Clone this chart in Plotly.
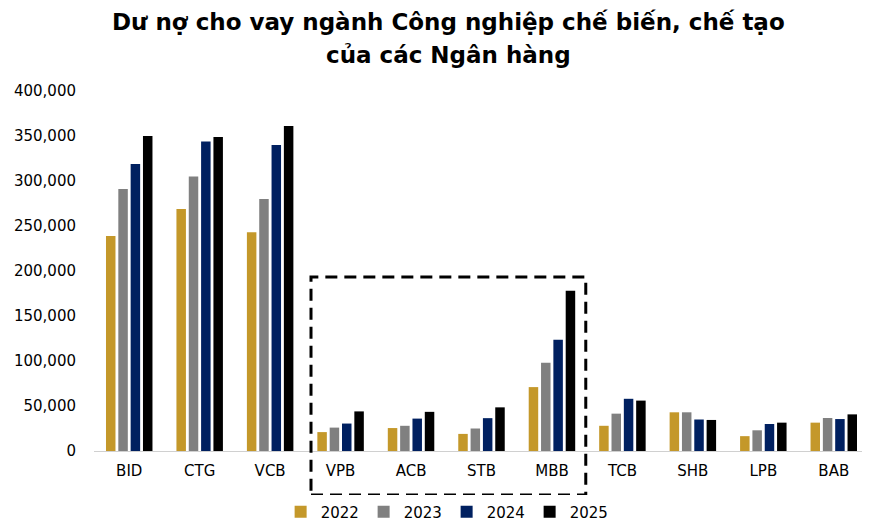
import plotly.graph_objects as go

banks = ['BID', 'CTG', 'VCB', 'VPB', 'ACB', 'STB', 'MBB', 'TCB', 'SHB', 'LPB', 'BAB']
years = ['2022', '2023', '2024', '2025']

v2022 = [239000, 269000, 243000, 21000, 25500, 19000, 71000, 28000, 43000, 16500, 31500]
v2023 = [291000, 305000, 280000, 26000, 28000, 25000, 98000, 41500, 43000, 23000, 36700]
v2024 = [319000, 344000, 340000, 30500, 36000, 36500, 123500, 58000, 35000, 30000, 35500]
v2025 = [350000, 349000, 361000, 44000, 43500, 48500, 178000, 56000, 34500, 31500, 40700]

values = [v2022, v2023, v2024, v2025]
COLORS = ['#C4982A', '#808080', '#002060', '#000000']

TITLE_LINES = ['Dư nợ cho vay ngành Công nghiệp chế biến, chế tạo', 'của các Ngân hàng']

FONT = 'DejaVu Sans'

fig = go.Figure()
for yr, vals, col in zip(years, values, COLORS):
    fig.add_trace(go.Bar(
        x=banks, y=vals, name=yr,
        marker=dict(color=col, line=dict(width=0)),
    ))

# dashed box around the mid-size banks
fig.add_shape(
    type='rect', xref='x', yref='paper',
    x0=2.58, x1=6.48, y0=-0.122, y1=0.483,
    line=dict(color='black', width=3, dash='12px,7px'),
)

# two-line title, set as annotations to get the wider line spacing
for txt, ypos in zip(TITLE_LINES, [1.192, 1.1]):
    fig.add_annotation(
        text=f'<b>{txt}</b>', xref='paper', yref='paper',
        x=0.457, y=ypos, xanchor='center', yanchor='middle',
        showarrow=False, font=dict(family=FONT, size=23, color='black'),
    )

# page body has an 8px margin, so the figure is 8px smaller than the window
fig.update_layout(
    width=862, height=516,
    paper_bgcolor='white', plot_bgcolor='white',
    margin=dict(l=86, r=1, t=83, b=73),
    barmode='group', bargap=0.3, bargroupgap=0.23,
    font=dict(family=FONT, size=15, color='black'),
    xaxis=dict(
        showline=True, linecolor='#d0d0d0', linewidth=1,
        ticks='', showgrid=False, automargin=False,
        tickfont=dict(size=15), ticklabelstandoff=6,
    ),
    yaxis=dict(
        range=[0, 400000], dtick=50000, tickformat=',d',
        showgrid=False, showline=False, zeroline=False,
        ticks='', tickfont=dict(size=15), automargin=False,
        ticklabelstandoff=17,
    ),
    legend=dict(
        orientation='h', x=0.455, xanchor='center',
        y=0.0233, yref='container', yanchor='middle',
        font=dict(size=15), itemwidth=30,
        entrywidth=38, entrywidthmode='pixels',
        traceorder='normal',
    ),
)

fig.write_html('out.html')
